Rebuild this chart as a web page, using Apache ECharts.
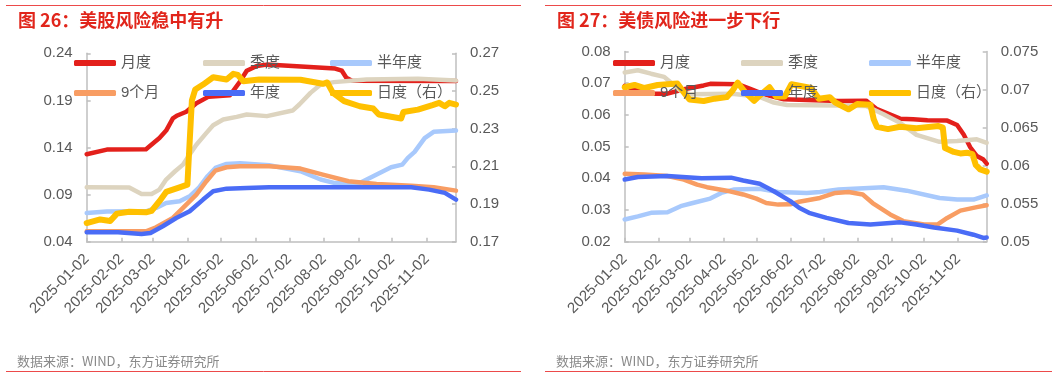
<!DOCTYPE html>
<html><head><meta charset="utf-8">
<script src="https://cdn.jsdelivr.net/npm/echarts@6/dist/echarts.min.js"></script>
<style>html,body{margin:0;padding:0;background:#fff;width:1061px;height:378px;overflow:hidden}
.c{position:absolute;top:0;height:378px}</style>
</head><body>
<div id="c1" class="c" style="left:0;width:530px"></div>
<div id="c2" class="c" style="left:530px;width:531px"></div>
<script>
// ---------- shared ----------
const seriesNames = ['月度','季度','半年度','9个月','年度','日度（右）'];
const tickDates = ['2025-01-02','2025-02-02','2025-03-02','2025-04-02','2025-05-02','2025-06-02','2025-07-02','2025-08-02','2025-09-02','2025-10-02','2025-11-02'];
const xStart = '2025-01-02';
const xEnd = '2025-11-28';
const sourceText = '数据来源：WIND，东方证券研究所';

// ---------- chart 1: 美股 ----------
const title1 = '图 26：美股风险稳中有升';
const leftTicks1 = {min:0.04, max:0.24, interval:0.05};
const rightTicks1 = {min:0.17, max:0.27, interval:0.02};
const us1_month = [['2025-01-02',0.1328],['2025-01-20',0.1378],['2025-02-24',0.1382],['2025-03-08',0.150],['2025-03-14',0.158],['2025-03-20',0.171],['2025-03-24',0.174],['2025-04-01',0.178],['2025-04-10',0.187],['2025-04-21',0.194],['2025-05-10',0.1955],['2025-05-19',0.210],['2025-05-25',0.2215],['2025-06-03',0.2265],['2025-06-12',0.228],['2025-08-12',0.2238],['2025-08-18',0.2215],['2025-08-22',0.214],['2025-08-27',0.2108],['2025-11-28',0.2105]];
const us1_quarter = [['2025-01-02',0.0978],['2025-02-09',0.0975],['2025-02-20',0.0907],['2025-03-01',0.0907],['2025-03-08',0.0953],['2025-03-14',0.106],['2025-03-22',0.1148],['2025-03-29',0.1218],['2025-04-04',0.1325],['2025-04-10',0.143],['2025-04-19',0.1555],['2025-04-25',0.1637],['2025-05-04',0.1697],['2025-05-16',0.1725],['2025-05-25',0.175],['2025-06-12',0.1733],['2025-07-05',0.1792],['2025-07-11',0.1856],['2025-07-21',0.198],['2025-07-30',0.2068],['2025-08-11',0.2094],['2025-09-09',0.2122],['2025-10-25',0.2129],['2025-11-28',0.211]];
const us1_half = [['2025-01-02',0.0705],['2025-01-20',0.072],['2025-02-24',0.0723],['2025-03-05',0.0758],['2025-03-14',0.0811],['2025-03-26',0.0829],['2025-04-04',0.0882],['2025-04-12',0.097],['2025-04-20',0.1095],['2025-04-27',0.1183],['2025-05-07',0.1226],['2025-05-19',0.1233],['2025-06-14',0.1212],['2025-07-12',0.1148],['2025-07-30',0.106],['2025-08-11',0.1024],['2025-09-03',0.1024],['2025-09-15',0.1095],['2025-10-01',0.119],['2025-10-11',0.1218],['2025-10-16',0.129],['2025-10-22',0.1353],['2025-10-31',0.150],['2025-11-08',0.1566],['2025-11-28',0.158]];
const us1_9m = [['2025-01-02',0.0511],['2025-02-24',0.0511],['2025-03-05',0.0553],['2025-03-20',0.0652],['2025-04-01',0.0793],['2025-04-10',0.090],['2025-04-19',0.1042],['2025-04-27',0.1155],['2025-05-07',0.119],['2025-05-19',0.120],['2025-06-14',0.120],['2025-07-12',0.1176],['2025-08-01',0.1112],['2025-08-24',0.1042],['2025-09-18',0.1013],['2025-10-19',0.0995],['2025-11-08',0.0978],['2025-11-28',0.0942]];
const us1_year = [['2025-01-02',0.050],['2025-01-30',0.050],['2025-02-20',0.0482],['2025-02-28',0.0493],['2025-03-11',0.0564],['2025-03-23',0.0652],['2025-04-04',0.0723],['2025-04-16',0.0847],['2025-04-25',0.0935],['2025-05-07',0.0963],['2025-05-25',0.097],['2025-06-14',0.0978],['2025-10-19',0.0978],['2025-11-04',0.0953],['2025-11-18',0.0918],['2025-11-28',0.0847]];
const us1_day = [['2025-01-02',0.1799],['2025-01-14',0.1818],['2025-01-23',0.181],['2025-01-29',0.1849],['2025-02-09',0.1859],['2025-02-24',0.1856],['2025-03-01',0.1864],['2025-03-08',0.1915],['2025-03-14',0.1964],['2025-03-26',0.1988],['2025-04-02',0.2003],['2025-04-03',0.212],['2025-04-06',0.245],['2025-04-09',0.2508],['2025-04-16',0.2534],['2025-04-25',0.2573],['2025-05-07',0.2561],['2025-05-13',0.2591],['2025-05-17',0.2585],['2025-05-22',0.2552],['2025-06-05',0.2561],['2025-07-12',0.256],['2025-08-01',0.2538],['2025-08-05',0.2545],['2025-08-10',0.249],['2025-08-20',0.2446],['2025-09-03',0.2419],['2025-09-15',0.2407],['2025-09-20',0.2375],['2025-10-01',0.2363],['2025-10-10',0.2354],['2025-10-12',0.2388],['2025-10-25',0.2401],['2025-11-07',0.2425],['2025-11-13',0.2437],['2025-11-18',0.2419],['2025-11-22',0.2437],['2025-11-28',0.2428]];

// ---------- chart 2: 美债 ----------
const title2 = '图 27：美债风险进一步下行';
const leftTicks2 = {min:0.02, max:0.08, interval:0.01};
const rightTicks2 = {min:0.05, max:0.075, interval:0.005};
const ust_month = [['2025-01-02',0.0692],['2025-01-14',0.0676],['2025-01-26',0.0667],['2025-02-10',0.0667],['2025-02-25',0.0681],['2025-03-15',0.0693],['2025-03-21',0.0698],['2025-04-15',0.0697],['2025-04-27',0.0681],['2025-05-09',0.0665],['2025-05-27',0.0649],['2025-06-17',0.0647],['2025-07-16',0.0644],['2025-08-10',0.0645],['2025-08-20',0.0618],['2025-09-10',0.0588],['2025-09-22',0.0586],['2025-10-05',0.0583],['2025-10-23',0.0582],['2025-11-01',0.0568],['2025-11-07',0.0538],['2025-11-13',0.0498],['2025-11-19',0.047],['2025-11-25',0.0459],['2025-11-28',0.0446]];
const ust_quarter = [['2025-01-02',0.0734],['2025-01-14',0.0741],['2025-01-26',0.073],['2025-02-07',0.072],['2025-02-13',0.0702],['2025-02-22',0.0676],['2025-03-03',0.0665],['2025-04-10',0.0667],['2025-05-05',0.0657],['2025-05-18',0.0639],['2025-05-30',0.0631],['2025-07-16',0.063],['2025-08-10',0.0628],['2025-08-26',0.0602],['2025-09-10',0.0575],['2025-09-25',0.0537],['2025-10-16',0.0515],['2025-11-01',0.0518],['2025-11-19',0.0523],['2025-11-28',0.0512]];
const ust_half = [['2025-01-02',0.027],['2025-01-14',0.028],['2025-01-26',0.0291],['2025-02-10',0.0293],['2025-02-22',0.0312],['2025-03-05',0.0322],['2025-03-21',0.0336],['2025-03-31',0.0354],['2025-04-12',0.0365],['2025-05-05',0.0367],['2025-05-22',0.0357],['2025-06-17',0.0354],['2025-06-29',0.0357],['2025-07-16',0.0365],['2025-08-26',0.0372],['2025-09-16',0.0361],['2025-10-16',0.0338],['2025-11-01',0.0333],['2025-11-16',0.0333],['2025-11-28',0.0346]];
const ust_9m = [['2025-01-02',0.0414],['2025-01-20',0.0412],['2025-02-10',0.0407],['2025-02-25',0.0396],['2025-03-09',0.038],['2025-03-18',0.0372],['2025-04-05',0.0361],['2025-04-20',0.0349],['2025-05-02',0.0336],['2025-05-11',0.0322],['2025-05-22',0.0317],['2025-06-02',0.0318],['2025-06-10',0.0326],['2025-06-29',0.0338],['2025-07-13',0.0354],['2025-07-25',0.0357],['2025-08-07',0.0349],['2025-08-16',0.0322],['2025-09-01',0.0286],['2025-09-13',0.0265],['2025-10-02',0.0254],['2025-10-14',0.0254],['2025-10-23',0.0275],['2025-11-04',0.0298],['2025-11-19',0.0309],['2025-11-28',0.0315]];
const ust_year = [['2025-01-02',0.0396],['2025-01-14',0.0404],['2025-02-10',0.0407],['2025-03-13',0.040],['2025-04-09',0.0402],['2025-04-20',0.0393],['2025-05-05',0.0383],['2025-05-18',0.0359],['2025-06-02',0.0328],['2025-06-10',0.0307],['2025-06-19',0.0291],['2025-07-05',0.0275],['2025-07-25',0.0259],['2025-08-14',0.0254],['2025-09-10',0.0261],['2025-09-25',0.0254],['2025-10-11',0.0245],['2025-11-01',0.0235],['2025-11-16',0.0222],['2025-11-25',0.0212],['2025-11-28',0.0213]];
const ust_day = [['2025-01-02',0.0703],['2025-01-11',0.0706],['2025-01-20',0.0702],['2025-02-01',0.0706],['2025-02-19',0.0708],['2025-02-25',0.0696],['2025-03-02',0.0687],['2025-03-15',0.0685],['2025-03-25',0.0688],['2025-04-05',0.069],['2025-04-10',0.0698],['2025-04-15',0.0709],['2025-04-22',0.0696],['2025-04-30',0.0685],['2025-05-05',0.0692],['2025-05-14',0.0703],['2025-05-20',0.0691],['2025-05-28',0.0691],['2025-06-03',0.0707],['2025-06-21',0.0702],['2025-06-28',0.0688],['2025-07-08',0.069],['2025-07-13',0.0683],['2025-07-25',0.0674],['2025-08-02',0.0681],['2025-08-14',0.068],['2025-08-17',0.0661],['2025-08-20',0.0651],['2025-08-30',0.0648],['2025-09-10',0.0651],['2025-09-25',0.0649],['2025-10-15',0.0652],['2025-10-19',0.065],['2025-10-21',0.0623],['2025-10-29',0.0618],['2025-11-04',0.0616],['2025-11-10',0.0617],['2025-11-15',0.0615],['2025-11-18',0.0601],['2025-11-22',0.0595],['2025-11-28',0.0592]];

// ---------- build ----------
const colors = ['#e3201b','#ddd4bf','#a8c9fc','#f89d63','#4a6cf6','#ffc000'];
const widths = [4.5,4.5,4.5,4.5,4.5,6];
function ts(s){const p=s.split('-').map(Number);return Date.UTC(p[0],p[1]-1,p[2]);}
function fmt(v){const d=new Date(v);const m=d.getUTCMonth()+1, dd=d.getUTCDate();return d.getUTCFullYear()+'-'+(m<10?'0':'')+m+'-'+(dd<10?'0':'')+dd;}
const FONT = '"Liberation Sans","Noto Sans CJK SC",sans-serif';
const AX = '#bfbfbf', TXT = '#595959';

function build(cfg){
  const tickTs = tickDates.map(ts);
  const yAx = (t,pos)=>({type:'value',position:pos,min:t.min,max:t.max,interval:t.interval,
    axisLine:{show:true,lineStyle:{color:AX,width:1.5}},
    axisTick:{show:true,inside:true,length:4,lineStyle:{color:AX,width:1.5}},
    axisLabel:{color:TXT,fontSize:15,fontFamily:FONT,margin:14},
    splitLine:{show:false}});
  const legends = seriesNames.map((n,i)=>({
    data:[n], left:cfg.legCols[i%3], top:cfg.legRows[Math.floor(i/3)], padding:0,
    icon:'roundRect', itemWidth:42, itemHeight:6, selectedMode:false,
    textStyle:{color:TXT,fontSize:15,fontFamily:FONT}
  }));
  const series = cfg.data.map((d,i)=>({
    name:seriesNames[i], type:'line', yAxisIndex: i===5?1:0, showSymbol:false, symbol:'none',
    color:colors[i], lineStyle:{width:widths[i],color:colors[i],cap:'round',join:'round'},
    data:d.map(p=>[ts(p[0]),p[1]])
  }));
  return {
    animation:false,
    textStyle:{fontFamily:FONT},
    grid:cfg.grid,
    legend:legends,
    xAxis:{type:'value',min:ts(xStart),max:ts(xEnd),
      axisLine:{show:true,lineStyle:{color:AX,width:1.5}},
      axisTick:{show:true,inside:true,length:4,customValues:tickTs,lineStyle:{color:AX,width:1.5}},
      axisLabel:{customValues:tickTs,rotate:45,formatter:fmt,color:TXT,fontSize:15,fontFamily:FONT,margin:15,hideOverlap:false},
      splitLine:{show:false}},
    yAxis:[yAx(cfg.lt,'left'),yAx(cfg.rt,'right')],
    series:series,
    graphic:[
      {type:'line',shape:{x1:cfg.rule[0],y1:5.5,x2:cfg.rule[1],y2:5.5},style:{stroke:'#ec4a4a',lineWidth:1}},
      {type:'text',x:cfg.titleX,y:20,style:{text:cfg.title,fill:'#e1251b',font:'bold 18px "Noto Sans CJK SC",sans-serif',textVerticalAlign:'middle'}},
      {type:'text',x:cfg.titleX-1,y:361.5,style:{text:sourceText,fill:'#8a8a8a',font:'13px "Noto Sans CJK SC",sans-serif',textVerticalAlign:'middle'}},
      {type:'line',shape:{x1:cfg.rule[0],y1:371.5,x2:cfg.rule[1],y2:371.5},style:{stroke:'#ec4a4a',lineWidth:1}}
    ]
  };
}

const ch1 = echarts.init(document.getElementById('c1'),null,{renderer:'canvas'});
ch1.setOption(build({
  title:title1, titleX:18, rule:[6,521],
  grid:{left:86.7,right:74,top:53.3,bottom:136.3},
  legCols:[74,203,330], legRows:[55.5,85.5],
  lt:leftTicks1, rt:rightTicks1,
  data:[us1_month,us1_quarter,us1_half,us1_9m,us1_year,us1_day]
}));
const ch2 = echarts.init(document.getElementById('c2'),null,{renderer:'canvas'});
ch2.setOption(build({
  title:title2, titleX:27, rule:[15,522],
  grid:{left:94.7,right:74.3,top:51.5,bottom:136.3},
  legCols:[83,211,339], legRows:[55.5,85.5],
  lt:leftTicks2, rt:rightTicks2,
  data:[ust_month,ust_quarter,ust_half,ust_9m,ust_year,ust_day]
}));
</script>
</body></html>
